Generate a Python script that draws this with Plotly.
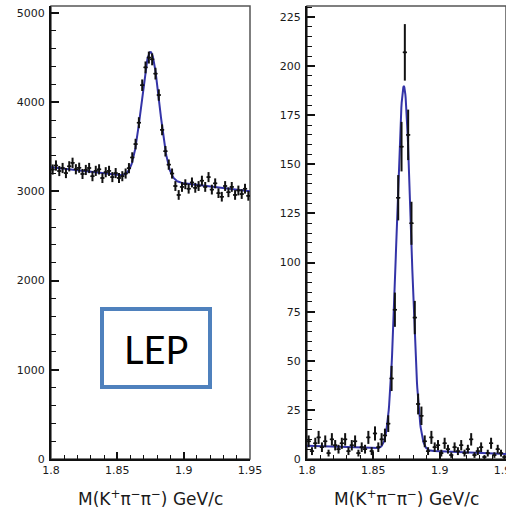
import numpy as np
import plotly.graph_objects as go

W, H = 506, 512

# Invariant-mass binning (GeV/c^2)
mass_lo, mass_hi, n_bins = 1.80, 1.95, 60
bin_w = (mass_hi - mass_lo) / n_bins
mass_centers = mass_lo + bin_w * (np.arange(n_bins) + 0.5)

# Left histogram: D+ -> K+ pi- pi- candidates per bin
left_counts = [
    3245, 3290, 3228, 3262, 3205, 3281, 3320, 3248, 3265, 3195,
    3240, 3262, 3170, 3230, 3247, 3150, 3215, 3230, 3160, 3205,
    3150, 3170, 3200, 3260, 3380, 3530, 3770, 4190, 4390, 4500,
    4480, 4320, 4080, 3690, 3450, 3300, 3200, 3060, 2960, 3050,
    3080, 3030, 3100, 3040, 3060, 3120, 3050, 3160, 3020, 3090,
    2980, 2940, 3060, 2990, 3050, 2960, 3010, 2970, 3030, 2950,
]

# Right histogram: same channel, clean sample
right_counts = [
    9, 4, 8, 11, 6, 9, 3, 10, 7, 5,
    8, 10, 4, 7, 9, 3, 6, 5, 11, 4,
    13, 6, 10, 12, 18, 41, 76, 133, 159, 207,
    165, 120, 72, 28, 22, 9, 4, 11, 6, 7,
    3, 8, 5, 2, 6, 4, 7, 3, 5, 10,
    2, 4, 6, 1, 3, 8, 2, 5, 3, 1,
]

# Fit parameters: Gaussian signal on a linear background
left_fit = dict(bg0=3270.0, slope=-1800.0, amp=1427.0, mean=1.875, sigma=0.00667)
right_fit = dict(bg0=6.7, slope=-28.0, amp=185.0, mean=1.873, sigma=0.0054)

# Axis tick labels
x_tickvals = [1.8, 1.85, 1.9, 1.95]
x_ticktext = ["1.8", "1.85", "1.9", "1.95"]
left_ytickvals = [0, 1000, 2000, 3000, 4000, 5000]
right_ytickvals = [0, 25, 50, 75, 100, 125, 150, 175, 200, 225]

x_title = "M(K<sup>+</sup>π<sup>−</sup>π<sup>−</sup>) GeV/c"
box_label = "LEP"


def fit_curve(p, x):
    return (p["bg0"] + p["slope"] * (x - mass_lo)
            + p["amp"] * np.exp(-0.5 * ((x - p["mean"]) / p["sigma"]) ** 2))


x_fine = np.linspace(mass_lo, mass_hi, 600)

fig = go.Figure()


def add_panel(counts, fit, xa, ya):
    counts = np.asarray(counts, dtype=float)
    fig.add_trace(go.Scatter(
        x=x_fine, y=fit_curve(fit, x_fine), mode="lines",
        line=dict(color="#3434a8", width=2), xaxis=xa, yaxis=ya,
        showlegend=False, hoverinfo="skip"))
    fig.add_trace(go.Scatter(
        x=mass_centers, y=counts, mode="markers",
        marker=dict(symbol="line-ew", size=3, color="#111",
                    line=dict(width=1.5, color="#111")),
        error_y=dict(type="data", array=np.sqrt(counts), thickness=2,
                     width=0, color="#111"),
        error_x=dict(type="constant", value=bin_w / 2, thickness=1.5,
                     width=0, color="#111"),
        xaxis=xa, yaxis=ya, showlegend=False))


add_panel(left_counts, left_fit, "x", "y")
add_panel(right_counts, right_fit, "x2", "y2")

tick_font = dict(family="DejaVu Sans", size=11, color="#1a1a1a")

x_common = dict(
    range=[mass_lo, mass_hi], tickmode="array", tickvals=x_tickvals,
    ticktext=x_ticktext, ticks="inside", ticklen=7, tickwidth=1.5,
    tickcolor="#111", showline=True, linewidth=2, linecolor="#111",
    showgrid=False, zeroline=False, tickfont=tick_font, automargin=False,
    ticklabelstandoff=0, ticklabeloverflow="allow",
    minor=dict(tickmode="linear", tick0=mass_lo, dtick=0.01, ticks="inside",
               ticklen=4, tickwidth=1.2, tickcolor="#111", showgrid=False),
)
y_common = dict(
    tickmode="array", ticks="inside", ticklen=8, tickwidth=1.5,
    tickcolor="#111", showline=True, linewidth=2, linecolor="#111",
    showgrid=False, zeroline=False, tickfont=tick_font, automargin=False,
    ticklabelstandoff=2,
)

y_dom = [1 - 459 / H, 1 - 6 / H]

fig.update_layout(
    width=W, height=H, margin=dict(l=0, r=0, t=0, b=0, autoexpand=False),
    paper_bgcolor="white", plot_bgcolor="white",
    xaxis=dict(domain=[51 / W, 250 / W], anchor="y", **x_common),
    yaxis=dict(domain=y_dom, anchor="x", range=[0, 5078],
               tickvals=left_ytickvals,
               minor=dict(tickmode="linear", tick0=0, dtick=200,
                          ticks="inside", ticklen=5, tickwidth=1.2,
                          tickcolor="#111", showgrid=False),
               **y_common),
    xaxis2=dict(domain=[307 / W, 1.0], anchor="y2", **x_common),
    yaxis2=dict(domain=y_dom, anchor="x2", range=[0, 230.6],
                tickvals=right_ytickvals,
                minor=dict(tickmode="linear", tick0=0, dtick=5,
                           ticks="inside", ticklen=5, tickwidth=1.2,
                           tickcolor="#111", showgrid=False),
                **y_common),
    showlegend=False,
)

# Thin frame around each panel
for xr, yr in (("x domain", "y domain"), ("x2 domain", "y2 domain")):
    fig.add_shape(type="rect", xref=xr, yref=yr, x0=0, x1=1, y0=0, y1=1,
                  line=dict(color="#555", width=1.5), layer="below")

# Axis titles
for xr in ("x domain", "x2 domain"):
    fig.add_annotation(text=x_title, xref=xr, x=0.5, yref="paper",
                       y=1 - 498 / H, xanchor="center", yanchor="middle",
                       showarrow=False,
                       font=dict(family="DejaVu Sans", size=17, color="#1a1a1a"))

# Labelled box on the left panel
fig.add_shape(type="rect", xref="paper", yref="paper",
              x0=102 / W, x1=210 / W, y0=1 - 387 / H, y1=1 - 309 / H,
              line=dict(color="#4f81bd", width=4), fillcolor="white",
              layer="above")
fig.add_annotation(text=box_label, xref="paper", yref="paper",
                   x=156 / W, y=1 - 349 / H, xanchor="center",
                   yanchor="middle", showarrow=False,
                   font=dict(family="Lato", size=38, color="black"))

fig.write_html("out.html")
